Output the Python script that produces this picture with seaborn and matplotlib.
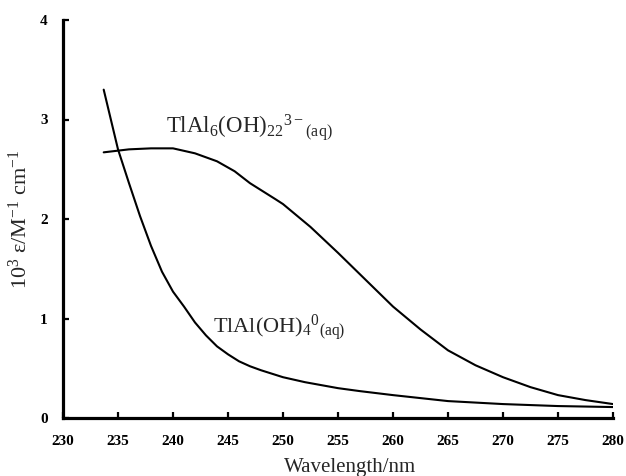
import matplotlib
matplotlib.use("Agg")
import matplotlib.pyplot as plt
import seaborn as sns
import pandas as pd

# --- data ---
wl_hexa = [233.7, 236, 238, 240, 242, 244, 245.6, 247, 249.3, 250, 252.5, 255,
           257.5, 260, 262.5, 265, 267.5, 270, 272.5, 275, 277.5, 280]
eps_hexa = [2.67, 2.70, 2.71, 2.71, 2.66, 2.58, 2.48, 2.36, 2.20, 2.15, 1.92, 1.66,
            1.39, 1.12, 0.89, 0.68, 0.53, 0.41, 0.31, 0.23, 0.18, 0.14]

wl_mono = [233.7, 235, 236, 237, 238, 239, 240, 241, 242, 243, 244, 245, 246,
           247, 248, 250, 252, 255, 257, 260, 262.5, 265, 270, 275, 280]
eps_mono = [3.30, 2.70, 2.36, 2.03, 1.73, 1.47, 1.27, 1.12, 0.96, 0.83, 0.72, 0.64,
            0.57, 0.52, 0.48, 0.41, 0.36, 0.30, 0.27, 0.23, 0.20, 0.17, 0.14, 0.12, 0.11]

series_names = ["TlAl6(OH)22", "TlAl(OH)4"]
x_ticks = [230, 235, 240, 245, 250, 255, 260, 265, 270, 275, 280]
y_ticks = [0, 1, 2, 3, 4]
label_hexa = r"$\mathregular{TlAl_6(OH)_{22}{}^{3-}{}_{(aq)}}$"
label_mono = r"$\mathregular{TlAl(OH)_4{}^{0}{}_{(aq)}}$"
x_label = "Wavelength/nm"
y_label = r"10$^3$ ε/M$^{-1}$ cm$^{-1}$"

df = pd.concat([
    pd.DataFrame({"wl": wl_hexa, "eps": eps_hexa, "species": series_names[0]}),
    pd.DataFrame({"wl": wl_mono, "eps": eps_mono, "species": series_names[1]}),
], ignore_index=True)

sns.set_style("ticks")
plt.rcParams["font.family"] = ["Liberation Serif", "DejaVu Serif"]
plt.rcParams["mathtext.fontset"] = "custom"
plt.rcParams["mathtext.rm"] = "Liberation Serif"
plt.rcParams["mathtext.it"] = "Liberation Serif:italic"
plt.rcParams["mathtext.bf"] = "Liberation Serif:bold"

fig = plt.figure(figsize=(6.26, 4.76), dpi=100)
ax = fig.add_axes([63 / 626, 1 - 418 / 476, 550 / 626, 398 / 476])

sns.lineplot(data=df, x="wl", y="eps", hue="species", palette=["black", "black"],
             linewidth=1.5, legend=False, sort=True, ax=ax, estimator=None)

ax.set_xlim(230, 280)
ax.set_ylim(0, 4)
ax.set_xticks(x_ticks)
ax.set_yticks(y_ticks)
sns.despine(ax=ax)
for side in ["left", "bottom"]:
    ax.spines[side].set_linewidth(2.3)
    ax.spines[side].set_color("black")
ax.tick_params(axis="both", direction="in", length=4, width=1.6, labelsize=11,
               colors="black")
ax.tick_params(axis="x", pad=12)
ax.tick_params(axis="y", pad=11)
for lab in ax.get_xticklabels() + ax.get_yticklabels():
    lab.set_fontweight("bold")

ax.set_xlabel(x_label, fontsize=15)
ax.xaxis.set_label_coords(0.522, -0.10)
ax.set_ylabel(y_label, fontsize=16, labelpad=6)

ax.text(0.187, 0.716, label_hexa, transform=ax.transAxes, fontsize=16.5,
        ha="left", va="baseline")
ax.text(0.273, 0.214, label_mono, transform=ax.transAxes, fontsize=16,
        ha="left", va="baseline")

fig.savefig("out.png", dpi=100)
